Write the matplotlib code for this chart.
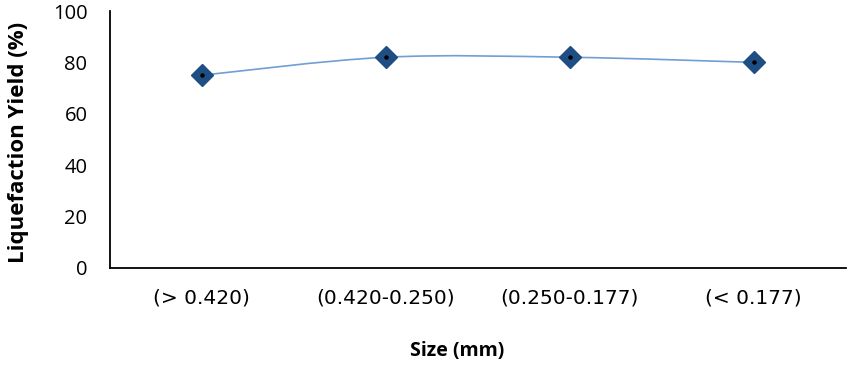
import matplotlib.pyplot as plt
from matplotlib.path import Path
from matplotlib.patches import PathPatch
import numpy as np

# data
sizes = ['(> 0.420)', '(0.420-0.250)', '(0.250-0.177)', '(< 0.177)']
yield_pct = [75, 82, 82, 80]

fig = plt.figure(figsize=(8.5, 3.67), dpi=100)
ax = fig.add_axes([0.129, 0.270, 0.866, 0.700])

x = np.arange(len(sizes)) + 0.5
y = np.array(yield_pct, dtype=float)

# smoothed line (Excel style) as a Catmull-Rom -> Bezier path through the points
verts = [(x[0], y[0])]
codes = [Path.MOVETO]
n = len(x)
for i in range(n - 1):
    p0 = (x[max(i - 1, 0)], y[max(i - 1, 0)])
    p1 = (x[i], y[i])
    p2 = (x[i + 1], y[i + 1])
    p3 = (x[min(i + 2, n - 1)], y[min(i + 2, n - 1)])
    c1 = (p1[0] + (p2[0] - p0[0]) / 6, p1[1] + (p2[1] - p0[1]) / 6)
    c2 = (p2[0] - (p3[0] - p1[0]) / 6, p2[1] - (p3[1] - p1[1]) / 6)
    verts += [c1, c2, p2]
    codes += [Path.CURVE4] * 3
ax.add_patch(PathPatch(Path(verts, codes), facecolor='none',
                       edgecolor='#6f9fd3', lw=1.2, zorder=2))

ax.plot(x, y, linestyle='none', marker='D', markersize=11,
        color='#1f4e85', markeredgecolor='#1f4e85', zorder=3)
ax.plot(x, y, linestyle='none', marker='o', markersize=2.2,
        color='black', zorder=4)

ax.set_xlim(0, len(sizes))
ax.set_ylim(0, 100)
ax.set_yticks(range(0, 101, 20))
ax.set_xticks(x)
ax.set_xticklabels(sizes, fontsize=14.5, family='DejaVu Sans')
ax.tick_params(axis='y', labelsize=14.5, length=0, pad=16)
ax.tick_params(axis='x', length=0, pad=15)
for lab in ax.get_yticklabels():
    lab.set_family('Open Sans')

for s in ['top', 'right']:
    ax.spines[s].set_visible(False)
ax.spines['left'].set_linewidth(1.3)
ax.spines['bottom'].set_linewidth(1.3)

ax.set_ylabel('Liquefaction Yield (%)', fontsize=16, fontweight='bold',
              family='Open Sans', va='center')
ax.yaxis.set_label_coords(-0.124, 0.49)
ax.set_xlabel('Size (mm)', fontsize=14, fontweight='bold',
              family='Open Sans')
ax.xaxis.set_label_coords(0.472, -0.285)

fig.savefig('out.png', dpi=100)
